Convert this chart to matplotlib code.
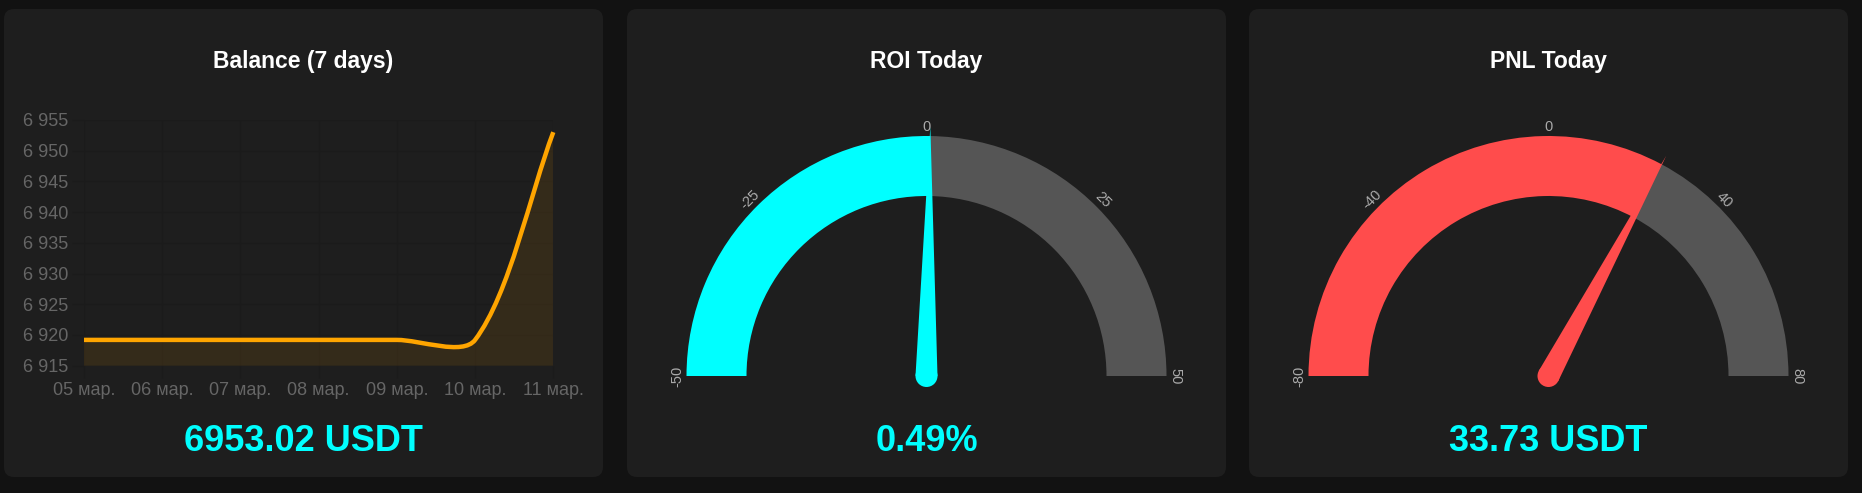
import matplotlib
matplotlib.use('Agg')

import numpy as np
import matplotlib.pyplot as plt
from matplotlib.patches import FancyBboxPatch, Wedge, Polygon, Circle, PathPatch
from matplotlib.path import Path

W, H, DPI = 1862, 493, 100

# --- data -------------------------------------------------------------------
titles = ['Balance (7 days)', 'ROI Today', 'PNL Today']

days = ['05 мар.', '06 мар.', '07 мар.', '08 мар.', '09 мар.', '10 мар.', '11 мар.']
balance = [6919.2, 6919.2, 6919.2, 6919.2, 6919.2, 6919.2, 6953.02]
balance_ticks = [6915, 6920, 6925, 6930, 6935, 6940, 6945, 6950, 6955]
balance_text = '6953.02 USDT'

roi_value = 0.49
roi_ticks = [-50, -25, 0, 25, 50]
roi_text = '0.49%'

pnl_needle = 25.0  # needle position as drawn in the dashboard
pnl_ticks = [-80, -40, 0, 40, 80]
pnl_text = '33.73 USDT'

# --- style ------------------------------------------------------------------
BG = '#121212'
CARD = '#1e1e1e'
GRID = '#1b1b1b'
ORANGE = '#ffa500'
CYAN = '#00ffff'
RED = '#ff4c4c'
GREY = '#555555'
FONT = ['Liberation Sans', 'DejaVu Sans']

plt.rcParams['font.family'] = FONT

card_left = [4, 627, 1249]
card_w, card_top, card_bottom = 599, 9, 477
R = 240.0       # gauge outer radius in px
GAUGE_Y = 376   # gauge centre (px from top)


def spline_path(ax, xs, ys, tension):
    # same control points as a Chart.js line with tension, computed in pixels
    pts = ax.transData.transform(np.column_stack([xs, ys]))
    n = len(pts)
    cp_prev, cp_next = [], []
    for i in range(n):
        cur = pts[i]
        prev = pts[i - 1] if i > 0 else cur
        nxt = pts[i + 1] if i < n - 1 else cur
        d01 = np.hypot(*(cur - prev))
        d12 = np.hypot(*(nxt - cur))
        tot = d01 + d12
        s01 = d01 / tot if tot else 0.0
        s12 = d12 / tot if tot else 0.0
        cp_prev.append(cur - tension * s01 * (nxt - prev))
        cp_next.append(cur + tension * s12 * (nxt - prev))
    verts = [pts[0]]
    codes = [Path.MOVETO]
    for i in range(n - 1):
        verts += [cp_next[i], cp_prev[i + 1], pts[i + 1]]
        codes += [Path.CURVE4] * 3
    verts = ax.transData.inverted().transform(np.array(verts))
    return verts, codes


def gauge(cx, value, ticks, color):
    gx = fig.add_axes([(cx - 270) / W, 1 - (GAUGE_Y + 25) / H, 540 / W, 295 / H])
    gx.set_xlim(-270 / R, 270 / R)
    gx.set_ylim(-25 / R, 270 / R)
    gx.axis('off')
    lo, hi = ticks[0], ticks[-1]

    def ang(v):
        return 180 - (v - lo) / (hi - lo) * 180

    a = ang(value)
    gx.add_patch(Wedge((0, 0), 1, 0, a, width=0.25, fc=GREY, ec='none'))
    gx.add_patch(Wedge((0, 0), 1, a, 180, width=0.25, fc=color, ec='none'))
    for t in ticks:
        th = np.radians(ang(t))
        gx.text(1.0375 * np.cos(th), 1.0375 * np.sin(th), str(t), rotation=ang(t) - 90,
                rotation_mode='anchor', ha='center', va='center', fontsize=10.5, color='#aaaaaa')
    th = np.radians(a)
    d = np.array([np.cos(th), np.sin(th)])
    nrm = np.array([-d[1], d[0]])
    hw = 11 / R
    gx.add_patch(Polygon([nrm * hw, d * 1.04, -nrm * hw], closed=True, fc=color, ec='none'))
    gx.add_patch(Circle((0, 0), hw, fc=color, ec='none'))


fig = plt.figure(figsize=(W / DPI, H / DPI), dpi=DPI, facecolor=BG)

# cards, titles and big numbers in pixel coordinates
bg = fig.add_axes([0, 0, 1, 1], zorder=-1)
bg.set_xlim(0, W)
bg.set_ylim(H, 0)
bg.axis('off')
values = [balance_text, roi_text, pnl_text]
for left, title, val in zip(card_left, titles, values):
    bg.add_patch(FancyBboxPatch((left, card_top), card_w, card_bottom - card_top,
                                boxstyle='round,pad=0,rounding_size=10', fc=CARD, ec='none'))
    cx = left + card_w / 2
    bg.text(cx, 61.5, title, ha='center', va='center', color='white',
            fontsize=16.5, fontweight='bold')
    bg.text(cx, 441.5, val, ha='center', va='center', color=CYAN,
            fontsize=26, fontweight='bold')

# balance line chart
ax = fig.add_axes([84 / W, 1 - 365.7 / H, (553.3 - 84) / W, (365.7 - 120) / H])
ax.set_facecolor('none')
x = np.arange(len(days))
ax.set_xlim(0, len(days) - 1)
ax.set_ylim(balance_ticks[0], balance_ticks[-1])
ax.set_xticks(x, days)
ax.set_yticks(balance_ticks, [f'{v:,}'.replace(',', ' ') for v in balance_ticks])
ax.set_axisbelow(True)
ax.grid(True, color=GRID, lw=1)
for s in ax.spines.values():
    s.set_visible(False)
ax.tick_params(colors=GRID, labelcolor='#666666', labelsize=13, length=8.6, width=0.75, pad=3)

verts, codes = spline_path(ax, x, balance, 0.3)
ax.add_patch(PathPatch(Path(verts, codes), fill=False, ec=ORANGE, lw=3.2,
                       capstyle='butt', joinstyle='round', clip_on=False, zorder=3))
fill_verts = np.vstack([verts, [[x[-1], balance_ticks[0]], [x[0], balance_ticks[0]], verts[0]]])
fill_codes = codes + [Path.LINETO, Path.LINETO, Path.CLOSEPOLY]
ax.add_patch(PathPatch(Path(fill_verts, fill_codes), fc=ORANGE, alpha=0.1, ec='none', zorder=2))

# gauges
gauge(card_left[1] + card_w / 2, roi_value, roi_ticks, CYAN)
gauge(card_left[2] + card_w / 2, pnl_needle, pnl_ticks, RED)

fig.savefig('out.png', dpi=DPI, facecolor=BG)
